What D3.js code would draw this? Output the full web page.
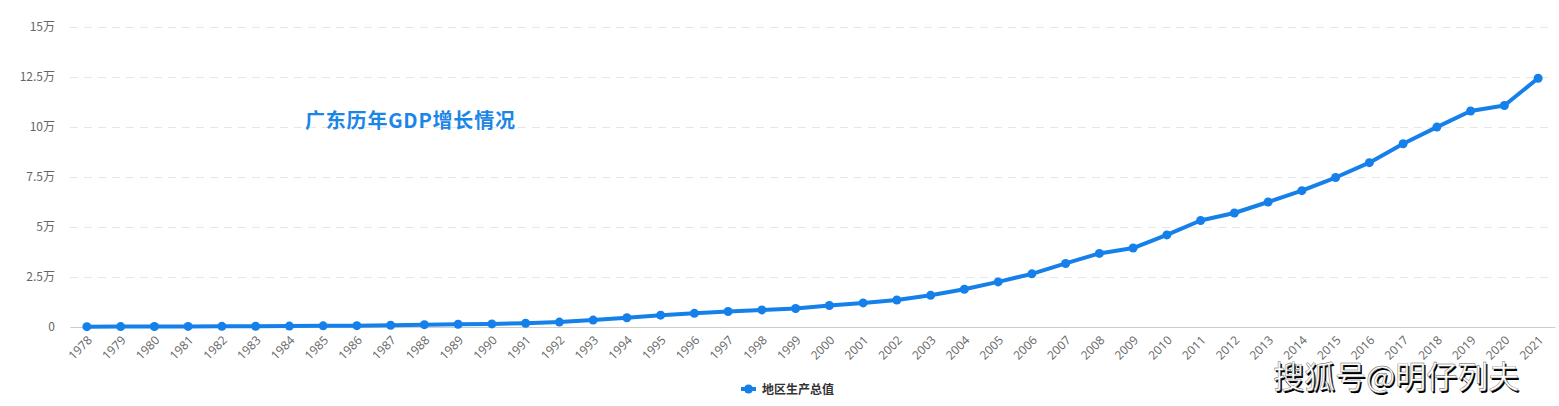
<!DOCTYPE html>
<html>
<head>
<meta charset="utf-8">
<script src="https://cdn.jsdelivr.net/npm/d3@7"></script>
<style>
html,body{margin:0;padding:0;background:#fff;}
svg{display:block;}
</style>
</head>
<body>
<svg id="chart" width="1559" height="406"></svg>
<script>
const years = [1978,1979,1980,1981,1982,1983,1984,1985,1986,1987,1988,1989,1990,1991,1992,1993,1994,1995,1996,1997,1998,1999,2000,2001,2002,2003,2004,2005,2006,2007,2008,2009,2010,2011,2012,2013,2014,2015,2016,2017,2018,2019,2020,2021];
const gdp = [185.85,209.34,249.65,290.36,339.92,368.75,458.74,577.38,667.53,846.69,1155.37,1381.39,1559.03,1893.30,2447.54,3469.28,4619.02,5933.05,6834.97,7774.53,8530.88,9250.68,10741.25,12039.25,13502.42,15844.64,18864.62,22557.37,26587.76,31777.01,36796.71,39482.56,46036.25,53246.18,57007.74,62503.41,68173.03,74732.44,82163.22,91648.73,99945.22,107986.92,110760.94,124369.67];
const yTicks = [0,25000,50000,75000,100000,125000,150000];
const yTickLabels = ["0","2.5万","5万","7.5万","10万","12.5万","15万"];
const seriesName = "地区生产总值";
const titleText = "广东历年GDP增长情况";
const watermark = "搜狐号@明仔列夫";

(function(){
const svg = d3.select("#chart");
const mLeft = 70, mRight = 1555, mTop = 27, mBottom = 327;
const blue = "#1580EA";

const x = d3.scaleBand().domain(years).range([mLeft, mRight]);
const y = d3.scaleLinear().domain([0,150000]).range([mBottom, mTop]);

// grid
svg.append("g").selectAll("line").data(yTicks.filter(d=>d>0)).join("line")
  .attr("x1", mLeft).attr("x2", mRight-3)
  .attr("y1", d=>y(d)+0.5).attr("y2", d=>y(d)+0.5)
  .attr("stroke","#e6e6e6").attr("stroke-dasharray","8,6").attr("stroke-width",1);

// y axis labels
const yAxis = d3.axisLeft(y).tickValues(yTicks).tickSize(0).tickPadding(0)
  .tickFormat((d,i)=>yTickLabels[i]);
const yg = svg.append("g").attr("transform",`translate(${mLeft-15},0)`).call(yAxis);
yg.select(".domain").remove();
yg.selectAll("text").attr("fill","#666").attr("font-size","12px")
  .attr("font-family","'Noto Sans CJK SC','Microsoft YaHei',sans-serif");

// x axis
const xAxis = d3.axisBottom(x).tickSize(0).tickPadding(0);
const xg = svg.append("g").attr("transform",`translate(0,${mBottom})`).call(xAxis);
xg.select(".domain").attr("stroke","#ccc");
xg.selectAll("text")
  .attr("fill","#666").attr("font-size","12px")
  .attr("font-family","'Open Sans','Noto Sans',sans-serif")
  .attr("text-anchor","end")
  .attr("dy","0")
  .attr("transform","translate(6,14) rotate(-45)");

// line
const line = d3.line().x((d,i)=>x(years[i])+x.bandwidth()/2).y(d=>y(d));
svg.append("path").datum(gdp).attr("d",line)
  .attr("fill","none").attr("stroke",blue).attr("stroke-width",4)
  .attr("stroke-linejoin","round").attr("stroke-linecap","round");
svg.append("g").selectAll("circle").data(gdp).join("circle")
  .attr("cx",(d,i)=>x(years[i])+x.bandwidth()/2).attr("cy",d=>y(d))
  .attr("r",4.5).attr("fill",blue);

// title
svg.append("text").attr("x",305).attr("y",128).text(titleText)
  .attr("fill","#1B86E6").attr("font-size","20px").attr("font-weight","bold")
  .attr("letter-spacing","0.8px")
  .attr("font-family","'Noto Sans CJK SC',serif");

// legend
const lg = svg.append("g");
lg.append("line").attr("x1",741).attr("x2",756).attr("y1",389).attr("y2",389)
  .attr("stroke",blue).attr("stroke-width",4);
lg.append("circle").attr("cx",748.5).attr("cy",389).attr("r",4.5).attr("fill",blue);
lg.append("text").attr("x",762).attr("y",393.5).text(seriesName)
  .attr("fill","#333").attr("font-size","12px").attr("font-weight","bold")
  .attr("font-family","'Noto Sans CJK SC',sans-serif");

// watermark
const wm = svg.append("g");
wm.append("text").attr("x",1273).attr("y",388).text(watermark)
  .attr("font-size","31px").attr("font-family","'Noto Sans CJK SC',sans-serif")
  .attr("fill","#000").attr("transform","translate(1.5,1.5)");
wm.append("text").attr("x",1273).attr("y",388).text(watermark)
  .attr("font-size","31px").attr("font-family","'Noto Sans CJK SC',sans-serif")
  .attr("fill","#fff").attr("stroke","#555").attr("stroke-width",0.4);
})();
</script>
</body>
</html>
